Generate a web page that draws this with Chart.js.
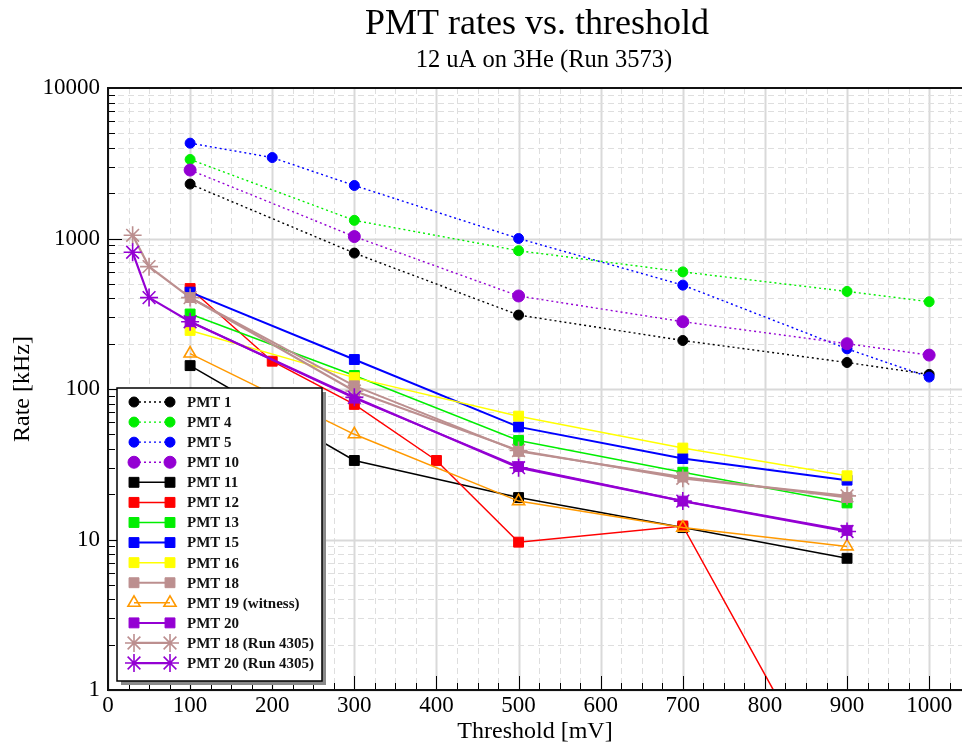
<!DOCTYPE html>
<html><head><meta charset="utf-8">
<script src="https://cdn.jsdelivr.net/npm/chart.js@4.4.0/dist/chart.umd.min.js"></script>
<style>html,body{margin:0;padding:0;background:#fff;}</style>
</head><body>
<canvas id="c" width="962" height="746" style="width:962px;height:746px;display:block"></canvas>
<script>
// ---- data ----
const thrA = [100, 300, 500, 700, 900, 1000];
const thrB = [100, 200, 300, 500, 700, 900, 1000];
const thrC = [100, 300, 500, 700, 900];
const thrD = [100, 200, 300, 400, 500, 700, 900];
const thrE = [30, 50, 100, 300, 500, 700, 900];

const pmt1  = [2300, 800, 310, 210, 150, 125];
const pmt4  = [3350, 1320, 830, 600, 445, 380];
const pmt5  = [4300, 3450, 2250, 1000, 490, 185, 120];
const pmt10 = [2850, 1030, 415, 280, 200, 168];
const pmt11 = [143, 33.5, 19, 12, 7.5];
const pmt12 = [465, 153, 79, 33.5, 9.6, 12.3, 0.13];
const pmt13 = [315, 123, 45.5, 28, 17.5];
const pmt15 = [440, 157, 56, 34.5, 24.8];
const pmt16 = [245, 119, 66, 40.5, 26.5];
const pmt18 = [405, 105, 38.5, 26, 19];
const pmt19 = [172, 50, 18, 12, 9];
const pmt20 = [280, 87, 30.5, 18, 11.5];
const pmt18r = [1050, 650, 405, 97, 39, 25.5, 19.5];
const pmt20r = [810, 405, 280, 88, 30, 18, 11.3];

const xTicks = [0, 100, 200, 300, 400, 500, 600, 700, 800, 900, 1000];
const yTicks = [1, 10, 100, 1000, 10000];

const titleText = 'PMT rates vs. threshold';
const subtitleText = '12 uA on 3He (Run 3573)';

// ---- build ----
const pts = (xs, ys) => xs.map((x, i) => ({x, y: ys[i]}));
const SERIF = '"Liberation Serif", "DejaVu Serif", serif';

function ds(label, xs, ys, color, style, radius, dashed, width, open) {
  return {
    label, data: pts(xs, ys),
    borderColor: color, backgroundColor: open ? 'rgba(0,0,0,0)' : color,
    pointStyle: style, pointRadius: radius, pointHoverRadius: radius,
    pointBorderColor: color, pointBackgroundColor: open ? 'rgba(0,0,0,0)' : color,
    pointBorderWidth: (style === 'star' || open) ? 1.6 : 1,
    borderWidth: width, borderDash: dashed ? [2, 3] : [],
    tension: 0, fill: false, spanGaps: true
  };
}

const datasets = [
  ds('PMT 1', thrA, pmt1, '#000000', 'circle', 5, true, 1.4),
  ds('PMT 4', thrA, pmt4, '#00ee00', 'circle', 5, true, 1.4),
  ds('PMT 5', thrB, pmt5, '#0000ff', 'circle', 5, true, 1.4),
  ds('PMT 10', thrA, pmt10, '#9400d3', 'circle', 6, true, 1.4),
  ds('PMT 11', thrC, pmt11, '#000000', 'rect', 7, false, 1.5),
  ds('PMT 12', thrD, pmt12, '#ff0000', 'rect', 7, false, 1.5),
  ds('PMT 13', thrC, pmt13, '#00ee00', 'rect', 7, false, 1.5),
  ds('PMT 15', thrC, pmt15, '#0000ff', 'rect', 7, false, 2),
  ds('PMT 16', thrC, pmt16, '#ffff00', 'rect', 7, false, 1.5),
  ds('PMT 18', thrC, pmt18, '#bc8f8f', 'rect', 7, false, 2),
  ds('PMT 19 (witness)', thrC, pmt19, '#ff9900', 'triangle', 7, false, 1.5, true),
  ds('PMT 20', thrC, pmt20, '#9400d3', 'rect', 7, false, 2),
  ds('PMT 18 (Run 4305)', thrE, pmt18r, '#bc8f8f', 'star', 9, false, 2.2),
  ds('PMT 20 (Run 4305)', thrE, pmt20r, '#9400d3', 'star', 9, false, 2.2)
];
datasets.forEach((d, i) => { d.order = datasets.length - i; });

const decoPlugin = {
  id: 'deco',
  beforeDatasetsDraw(chart) {
    const {ctx, chartArea: a, scales: {x, y}} = chart;
    ctx.save();
    for (let v = 0; v <= 1040; v += 25) {
      const px = Math.round(x.getPixelForValue(v)) + 0.5;
      ctx.beginPath();
      if (v % 100 === 0) { ctx.setLineDash([]); ctx.strokeStyle = '#d9d9d9'; ctx.lineWidth = 2; }
      else { ctx.setLineDash([6, 4]); ctx.strokeStyle = '#dedede'; ctx.lineWidth = 1; }
      ctx.moveTo(px, a.top); ctx.lineTo(px, a.bottom); ctx.stroke();
    }
    for (let e = 0; e < 4; e++) {
      for (let m = 1; m <= 9; m++) {
        const v = m * Math.pow(10, e);
        const py = Math.round(y.getPixelForValue(v)) + 0.5;
        ctx.beginPath();
        if (m === 1) { ctx.setLineDash([]); ctx.strokeStyle = '#d9d9d9'; ctx.lineWidth = 2; }
        else { ctx.setLineDash([6, 4]); ctx.strokeStyle = '#dedede'; ctx.lineWidth = 1; }
        ctx.moveTo(a.left, py); ctx.lineTo(a.right, py); ctx.stroke();
      }
    }
    ctx.restore();
  },
  afterDraw(chart) {
    const {ctx, chartArea: a, scales: {x, y}} = chart;
    ctx.save();
    ctx.setLineDash([]);
    ctx.strokeStyle = '#000'; ctx.lineWidth = 1;
    for (let v = 0; v <= 1040; v += 25) {
      const px = Math.round(x.getPixelForValue(v)) + 0.5;
      const len = v % 100 === 0 ? 14 : 7;
      ctx.beginPath(); ctx.moveTo(px, a.bottom); ctx.lineTo(px, a.bottom - len); ctx.stroke();
    }
    for (let e = 0; e < 4; e++) for (let m = 1; m <= 9; m++) {
      const py = Math.round(y.getPixelForValue(m * Math.pow(10, e))) + 0.5;
      const len = m === 1 ? 14 : 7;
      ctx.beginPath(); ctx.moveTo(a.left, py); ctx.lineTo(a.left + len, py); ctx.stroke();
    }
    // frame (left, top, bottom)
    ctx.strokeStyle = '#111'; ctx.lineWidth = 2;
    ctx.beginPath();
    ctx.moveTo(a.right + 2, a.top); ctx.lineTo(a.left, a.top); ctx.lineTo(a.left, a.bottom); ctx.lineTo(a.right + 2, a.bottom);
    ctx.stroke();
    // title
    ctx.fillStyle = '#000'; ctx.textAlign = 'center'; ctx.textBaseline = 'alphabetic';
    ctx.font = '36px ' + SERIF;
    ctx.fillText(titleText, 537, 34);
    ctx.font = '24.5px ' + SERIF;
    ctx.fillText(subtitleText, 544, 67);

    // legend
    const L = 117, T = 388, W = 205, H = 293;
    ctx.fillStyle = '#8a8a8a';
    ctx.fillRect(L + 4, T + 4, W, H);
    ctx.fillStyle = '#fff';
    ctx.fillRect(L, T, W, H);
    ctx.strokeStyle = '#000'; ctx.lineWidth = 1.5;
    ctx.strokeRect(L, T, W, H);
    chart.data.datasets.forEach((d, i) => {
      const ry = 402 + i * 20.08;
      const x1 = 134, x2 = 170;
      ctx.save();
      ctx.strokeStyle = d.borderColor; ctx.lineWidth = d.borderWidth;
      ctx.setLineDash(d.borderDash);
      ctx.beginPath(); ctx.moveTo(x1, ry); ctx.lineTo(x2, ry); ctx.stroke();
      ctx.setLineDash([]);
      ctx.fillStyle = d.pointBackgroundColor; ctx.strokeStyle = d.pointBorderColor;
      ctx.lineWidth = d.pointBorderWidth;
      const opt = {pointStyle: d.pointStyle, radius: d.pointRadius, borderWidth: d.pointBorderWidth, rotation: 0};
      Chart.helpers.drawPoint(ctx, opt, x1, ry);
      Chart.helpers.drawPoint(ctx, opt, x2, ry);
      ctx.restore();
      ctx.fillStyle = '#111'; ctx.textAlign = 'left'; ctx.textBaseline = 'middle';
      ctx.font = 'bold 15px ' + SERIF;
      ctx.fillText(d.label, 187, ry + 1);
    });
    ctx.restore();
  }
};

new Chart(document.getElementById('c'), {
  type: 'line',
  data: { datasets },
  options: {
    responsive: false, animation: false, devicePixelRatio: 1,
    layout: { autoPadding: false, padding: { top: 88, right: 0, left: 0, bottom: 0 } },
    plugins: { legend: { display: false }, tooltip: { enabled: false }, title: { display: false } },
    scales: {
      x: {
        type: 'linear', min: 0, max: 1040,
        afterBuildTicks(s) { s.ticks = xTicks.map(v => ({value: v})); },
        ticks: { font: { family: SERIF, size: 23 }, color: '#000', padding: 2, maxRotation: 0, autoSkip: false,
                 callback: v => String(v) },
        grid: { display: false, drawTicks: false }, border: { display: false },
        title: { display: true, text: 'Threshold [mV]', font: { family: SERIF, size: 24 }, color: '#000', padding: { top: 0, bottom: 0 } },
        afterFit(s) { s.height = 56; s.paddingLeft = 0; s.paddingRight = 0; }
      },
      y: {
        type: 'logarithmic', min: 1, max: 10000,
        afterBuildTicks(s) { s.ticks = yTicks.map(v => ({value: v})); },
        ticks: { font: { family: SERIF, size: 23 }, color: '#000', padding: 8, autoSkip: false,
                 callback: v => String(v) },
        grid: { display: false, drawTicks: false }, border: { display: false },
        title: { display: true, text: 'Rate [kHz]', font: { family: SERIF, size: 24 }, color: '#000', padding: { top: 8, bottom: 0 } },
        afterFit(s) { s.width = 108; s.paddingTop = 0; s.paddingBottom = 0; }
      }
    }
  },
  plugins: [decoPlugin]
});
</script>
</body></html>
